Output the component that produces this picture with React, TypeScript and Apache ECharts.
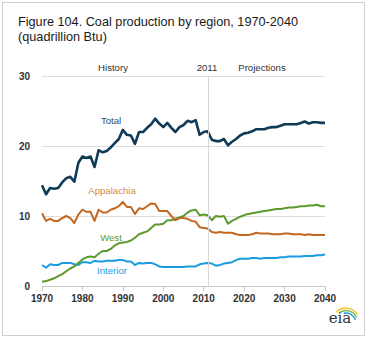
import React, { useEffect, useRef } from "react";
import * as echarts from "echarts";

const START_YEAR = 1970;
const END_YEAR = 2040;
const xTicks = [1970, 1980, 1990, 2000, 2010, 2020, 2030, 2040];
const yTicks = [0, 10, 20, 30];

const total = [
  14.4, 13.1, 14.0, 13.9, 14.0, 14.8, 15.4, 15.6, 14.9, 17.6,
  18.5, 18.3, 18.5, 17.0, 19.4, 19.1, 19.3, 19.8, 20.4, 21.0,
  22.3, 21.6, 21.5, 20.3, 22.0, 22.0, 22.6, 23.1, 23.9, 23.2,
  22.7, 23.3, 22.6, 22.0, 22.7, 23.0, 23.6, 23.4, 23.7, 21.6,
  22.0, 22.1, 20.9, 20.7, 20.7, 21.0, 20.1, 20.6, 21.0, 21.5,
  21.8, 21.9, 22.1, 22.4, 22.4, 22.4, 22.6, 22.7, 22.7, 22.9,
  23.1, 23.1, 23.1, 23.1, 23.3, 23.5, 23.2, 23.4, 23.4, 23.3,
  23.3,
];
const appalachia = [
  10.4, 9.3, 9.6, 9.3, 9.3, 9.7, 10.0, 9.7, 9.0, 10.2,
  10.9, 10.6, 10.6, 9.3, 10.9, 10.5, 10.5, 10.9, 11.1, 11.4,
  12.0, 11.3, 11.3, 10.3, 11.1, 11.0, 11.4, 11.8, 11.7, 10.7,
  10.7, 10.7, 10.0, 9.4, 9.7, 9.7, 9.6, 9.3, 9.2, 8.4,
  8.3, 8.2, 7.7, 7.6, 7.7, 7.6, 7.6, 7.6, 7.4, 7.3,
  7.3, 7.3, 7.4, 7.6, 7.5, 7.5, 7.5, 7.4, 7.4, 7.4,
  7.5, 7.5, 7.4, 7.4, 7.4, 7.3, 7.4, 7.3, 7.3, 7.3,
  7.3,
];
const west = [
  0.6, 0.7, 0.9, 1.1, 1.4, 1.7, 2.1, 2.5, 2.8, 3.3,
  3.8, 4.1, 4.2, 4.1, 4.6, 5.0, 5.0, 5.3, 5.8, 6.1,
  6.2, 6.3, 6.5, 6.9, 7.4, 7.6, 7.8, 8.3, 8.8, 8.8,
  8.9, 9.4, 9.4, 9.6, 9.8, 10.0, 10.5, 10.8, 10.9, 10.1,
  10.2, 10.1, 9.4, 10.0, 9.9, 10.0, 8.9, 9.3, 9.6, 9.9,
  10.1, 10.3, 10.4, 10.5, 10.6, 10.7, 10.8, 10.9, 11.0, 11.0,
  11.1, 11.2, 11.2, 11.3, 11.4, 11.4, 11.5, 11.5, 11.6, 11.4,
  11.4,
];
const interior = [
  3.0, 2.6, 3.1, 3.0, 3.0, 3.3, 3.3, 3.3, 3.1, 3.0,
  3.4, 3.4, 3.3, 3.6, 3.5, 3.5, 3.6, 3.6, 3.6, 3.7,
  3.7, 3.5, 3.5, 3.0, 3.3, 3.2, 3.3, 3.3, 3.1, 2.8,
  2.7, 2.7, 2.7, 2.7, 2.7, 2.7, 2.8, 2.8, 2.8, 3.1,
  3.2, 3.3, 3.2, 2.9, 3.0, 3.2, 3.3, 3.4, 3.7, 3.9,
  3.9, 3.9, 4.0, 4.0, 3.9, 4.0, 4.0, 4.0, 4.0, 4.1,
  4.1, 4.2, 4.2, 4.2, 4.2, 4.3, 4.3, 4.3, 4.4, 4.4,
  4.5,
];

const pairs = (vals: number[]) => vals.map((v, i) => [START_YEAR + i, v]);

export default function App() {
  const ref = useRef<HTMLDivElement>(null);
  useEffect(() => {
    if (!ref.current) return;
    const chart = echarts.init(ref.current, null, { renderer: "svg" });
    const font = "Arial, 'Liberation Sans', sans-serif";
    const line = (name: string, vals: number[], color: string, width: number, extra: any = {}) => ({
      name,
      type: "line",
      data: pairs(vals),
      symbol: "none",
      lineStyle: { color, width, join: "round" },
      itemStyle: { color },
      ...extra,
    });
    const label = (text: string, x: number, y: number, fill: string) => ({
      type: "text",
      x,
      y,
      style: { text, font: `9.6px ${font}`, fill, align: "center", verticalAlign: "middle" },
    });
    chart.setOption({
      animation: false,
      backgroundColor: "#fff",
      textStyle: { fontFamily: font },
      grid: { left: 42, right: 44, top: 76, bottom: 52, containLabel: false },
      xAxis: {
        type: "value",
        min: START_YEAR,
        max: END_YEAR,
        interval: 10,
        axisLine: { show: true, lineStyle: { color: "#c8c8c8", width: 1 } },
        axisTick: { show: true, length: 5, lineStyle: { color: "#c8c8c8" } },
        splitLine: { show: false },
        axisLabel: {
          color: "#333",
          fontSize: 10,
          fontWeight: "bold",
          margin: 7,
          formatter: (v: number) => (xTicks.includes(v) ? String(v) : ""),
        },
      },
      yAxis: {
        type: "value",
        min: yTicks[0],
        max: yTicks[yTicks.length - 1],
        interval: 10,
        axisLine: { show: false },
        axisTick: { show: false },
        splitLine: { show: true, lineStyle: { color: "#dedede", width: 1 } },
        axisLabel: { color: "#333", fontSize: 10, fontWeight: "bold", margin: 12 },
      },
      series: [
        line("Interior", interior, "#1a9be2", 2),
        line("West", west, "#5c9a2e", 2),
        line("Appalachia", appalachia, "#c4671f", 2),
        line("Total", total, "#0f3b56", 2.6, {
          markLine: {
            silent: true,
            symbol: "none",
            label: { show: false },
            lineStyle: { color: "#d8d8d8", width: 1, type: "solid" },
            data: [{ xAxis: 2011 }],
          },
        }),
      ],
      graphic: [
        {
          type: "rect",
          shape: { x: 2.5, y: 2.5, width: 362, height: 333 },
          style: { fill: "none", stroke: "#cfcfcf", lineWidth: 1 },
          silent: true,
        },
        {
          type: "text",
          left: 18,
          top: 14,
          style: {
            text: "Figure 104. Coal production by region, 1970-2040\n(quadrillion Btu)",
            font: `12.7px ${font}`,
            fill: "#1a1a1a",
            lineHeight: 15,
          },
        },
        label("History", 113, 67, "#333"),
        label("2011", 207, 67, "#333"),
        label("Projections", 262, 67, "#333"),
        label("Total", 111, 120, "#2d4f6e"),
        label("Appalachia", 112, 190, "#d48a45"),
        label("West", 111, 237, "#5e9a33"),
        label("Interior", 112, 270, "#27a0e8"),
        { type: "arc", shape: { cx: 346, cy: 321, r: 13, startAngle: -2.4, endAngle: -0.5 }, style: { stroke: "#f2c21b", lineWidth: 1.4, fill: "none" } },
        { type: "arc", shape: { cx: 346, cy: 322, r: 11.5, startAngle: -2.1, endAngle: -0.4 }, style: { stroke: "#7ab648", lineWidth: 1.4, fill: "none" } },
        { type: "arc", shape: { cx: 346, cy: 323, r: 10, startAngle: -1.8, endAngle: -0.3 }, style: { stroke: "#1a9fe0", lineWidth: 1.4, fill: "none" } },
        { type: "text", x: 340, y: 318, style: { text: "eia", font: `15px 'DejaVu Serif', 'Liberation Serif', serif`, fill: "#333", align: "center", verticalAlign: "middle" } },
      ],
    });
    return () => chart.dispose();
  }, []);
  return (
    <div
      ref={ref}
      style={{ position: "fixed", left: 0, top: 0, width: 369, height: 338 }}
    />
  );
}
